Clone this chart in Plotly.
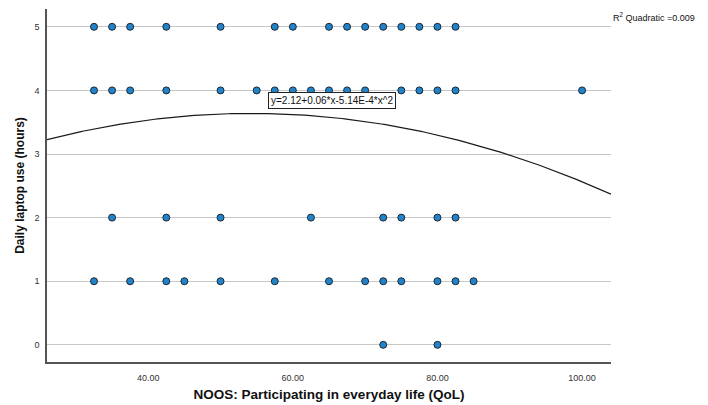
import numpy as np
import plotly.graph_objects as go

# Participation score (x) for each observed daily laptop-use level (y)
hours_5 = [32.5, 35, 37.5, 42.5, 50, 57.5, 60, 65, 67.5, 70, 72.5, 75, 77.5, 80, 82.5]
hours_4 = [32.5, 35, 37.5, 42.5, 50, 55, 57.5, 60, 62.5, 65, 67.5, 70, 75, 77.5, 80, 82.5, 100]
hours_2 = [35, 42.5, 50, 62.5, 72.5, 75, 80, 82.5]
hours_1 = [32.5, 37.5, 42.5, 45, 50, 57.5, 65, 70, 72.5, 75, 80, 82.5, 85]
hours_0 = [72.5, 80]

y_ticks = [0, 1, 2, 3, 4, 5]
x_ticks = [40, 60, 80, 100]
x_tick_labels = ["40.00", "60.00", "80.00", "100.00"]

# Quadratic fit coefficients: y = a + b*x + c*x^2
fit_a = 2.124
fit_b = 0.0558
fit_c = -5.14e-4
r2_quadratic = 0.009

x_range = [26, 104]
y_range = [-0.27, 5.28]

xs, ys = [], []
for level, vals in [(5, hours_5), (4, hours_4), (2, hours_2), (1, hours_1), (0, hours_0)]:
    xs += vals
    ys += [level] * len(vals)


def sci(v):
    mant, exp = f"{abs(v):.2E}".split("E")
    return f"{mant}E{int(exp)}"


eq_text = f"y={fit_a:.2f}+{fit_b:.2f}*x-{sci(fit_c)}*x^2"

curve_x = np.linspace(x_range[0], x_range[1], 200)
curve_y = fit_a + fit_b * curve_x + fit_c * curve_x ** 2

font_family = "Arial, Liberation Sans, sans-serif"

fig = go.Figure()
fig.add_trace(go.Scatter(
    x=curve_x, y=curve_y, mode="lines",
    line=dict(color="#1a1a1a", width=1.2),
    hoverinfo="skip", showlegend=False,
))
fig.add_trace(go.Scatter(
    x=xs, y=ys, mode="markers",
    marker=dict(size=7, color="#2183c9", line=dict(color="#1c2733", width=1)),
    showlegend=False,
))

fig.add_annotation(
    x=56.5, y=3.97, xref="x", yref="y", xanchor="left", yanchor="top",
    text=eq_text, showarrow=False,
    font=dict(family=font_family, size=10, color="#111111"),
    bgcolor="white", bordercolor="#222222", borderwidth=1, borderpad=2,
)
fig.add_annotation(
    x=1.0, y=0.978, xref="paper", yref="paper", xanchor="left", yanchor="middle",
    text=f"R<sup>2</sup> Quadratic ={r2_quadratic:.3f}", showarrow=False,
    font=dict(family=font_family, size=9, color="#111111"),
)

fig.update_layout(
    width=708, height=405,
    margin=dict(l=47, r=97, t=9, b=43),
    paper_bgcolor="white", plot_bgcolor="white",
    font=dict(family=font_family, color="#222222"),
    xaxis=dict(
        range=x_range, tickvals=x_ticks, ticktext=x_tick_labels,
        showgrid=False, zeroline=False, automargin=False,
        showline=True, linecolor="#555555", linewidth=1.5,
        ticks="", tickfont=dict(size=9, color="#333333"),
        ticklabelstandoff=6,
        title=dict(text="<b>NOOS: Participating in everyday life (QoL)</b>",
                   font=dict(size=13.5, color="#111111"), standoff=8),
    ),
    yaxis=dict(
        range=y_range, tickvals=y_ticks,
        showgrid=True, gridcolor="#c8c8c8", gridwidth=1,
        zeroline=False, automargin=False,
        showline=True, linecolor="#555555", linewidth=1.5,
        ticks="", tickfont=dict(size=9, color="#333333"),
        ticklabelstandoff=4,
        title=dict(text="<b>Daily laptop use (hours)</b>",
                   font=dict(size=12, color="#111111"), standoff=7),
    ),
)

fig.write_html("out.html")
